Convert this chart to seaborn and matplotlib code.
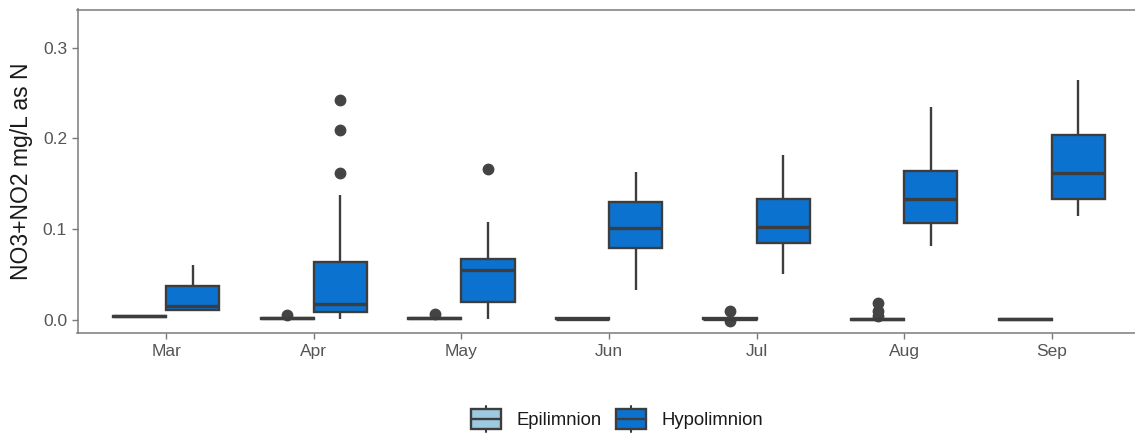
import numpy as np
import pandas as pd
import matplotlib
matplotlib.use("Agg")
import matplotlib.pyplot as plt
from matplotlib.patches import Rectangle
from matplotlib.lines import Line2D
from matplotlib.legend_handler import HandlerBase
import seaborn as sns

# Monthly NO3+NO2 samples (mg/L as N) for each lake layer
months = ["Mar", "Apr", "May", "Jun", "Jul", "Aug", "Sep"]
layers = ["Epilimnion", "Hypolimnion"]

epilimnion = [
    [0.0028, 0.0030, 0.0031, 0.0034, 0.0037, 0.0040, 0.0043, 0.0045, 0.0047],
    [0.0006, 0.0008, 0.0010, 0.0014, 0.0018, 0.0021, 0.0024, 0.0026, 0.0055],
    [0.0004, 0.0006, 0.0008, 0.0011, 0.0015, 0.0018, 0.0022, 0.0024, 0.0066],
    [0.0000, 0.0002, 0.0003, 0.0005, 0.0008, 0.0010, 0.0014, 0.0015, 0.0017],
    [-0.0018, 0.0000, 0.0002, 0.0003, 0.0005, 0.0006, 0.0008, 0.0009, 0.0011,
     0.0014, 0.0015, 0.0016, 0.0100],
    [0.0000, 0.0000, 0.0000, 0.0001, 0.0003, 0.0004, 0.0005, 0.0007, 0.0009,
     0.0012, 0.0040, 0.0100, 0.0180],
    [0.0000, 0.0000, 0.0000, 0.0001, 0.0003, 0.0005, 0.0011, 0.0012, 0.0013],
]

hypolimnion = [
    [0.010, 0.011, 0.011, 0.013, 0.015, 0.022, 0.0375, 0.045, 0.060],
    [0.001, 0.003, 0.005, 0.007, 0.008, 0.010, 0.012, 0.015, 0.0176, 0.024,
     0.035, 0.048, 0.064, 0.137, 0.162, 0.209, 0.242],
    [0.001, 0.008, 0.014, 0.019, 0.030, 0.045, 0.0543, 0.058, 0.062, 0.0669,
     0.085, 0.108, 0.166],
    [0.033, 0.060, 0.0786, 0.090, 0.101, 0.115, 0.130, 0.145, 0.163],
    [0.0507, 0.070, 0.085, 0.095, 0.102, 0.115, 0.133, 0.150, 0.182],
    [0.081, 0.095, 0.107, 0.120, 0.133, 0.150, 0.1645, 0.200, 0.235],
    [0.114, 0.125, 0.133, 0.148, 0.162, 0.185, 0.204, 0.235, 0.264],
]

y_ticks = [0.0, 0.1, 0.2, 0.3]
y_label = "NO3+NO2 mg/L as N"

rows = []
for layer, series in zip(layers, [epilimnion, hypolimnion]):
    for month, values in zip(months, series):
        for v in values:
            rows.append({"month": month, "layer": layer, "value": v})
df = pd.DataFrame(rows)

sns.set_style("white")
plt.rcParams["font.family"] = ["Liberation Sans", "DejaVu Sans"]

edge = "#3d3d3d"
axis_grey = "#7a7a7a"
palette = {"Epilimnion": "#9ecae1", "Hypolimnion": "#0b72d0"}


class BoxGlyphHandler(HandlerBase):
    """Legend key drawn as a small box with median line and whisker stubs."""

    def __init__(self, face):
        super().__init__()
        self.face = face

    def create_artists(self, legend, orig_handle, xdescent, ydescent,
                       width, height, fontsize, trans):
        x0, y0 = -xdescent, -ydescent
        cx = x0 + width / 2
        bh = height * 0.76
        by = y0 + (height - bh) / 2
        box = Rectangle((x0, by), width, bh, facecolor=self.face,
                        edgecolor=edge, linewidth=1.7, transform=trans)
        med = Line2D([x0, x0 + width], [by + bh / 2] * 2, color=edge,
                     linewidth=1.7, transform=trans)
        top = Line2D([cx, cx], [by + bh, y0 + height], color=edge,
                     linewidth=1.5, transform=trans)
        bot = Line2D([cx, cx], [y0, by], color=edge, linewidth=1.5,
                     transform=trans)
        return [box, med, top, bot]


fig = plt.figure(figsize=(11.35, 4.34), dpi=100)
ax = fig.add_axes([77.5 / 1135, 1 - 332.7 / 434, (1140.5 - 77.5) / 1135, (332.7 - 9.5) / 434])

sns.boxplot(
    data=df, x="month", y="value", hue="layer", order=months, hue_order=layers,
    palette=palette, width=0.72, gap=0, linewidth=1.7, linecolor=edge,
    fliersize=7.5, saturation=1, showcaps=False,
    medianprops=dict(linewidth=2.4),
    flierprops=dict(marker="o", markerfacecolor="#444444", markeredgecolor="#444444"),
    ax=ax,
)

ax.set_xlim(-0.6, 6.6)
ax.set_ylim(-0.0143, 0.342)
ax.set_yticks(y_ticks)
ax.set_yticklabels([f"{t:.1f}" for t in y_ticks])
ax.set_xlabel("")
ax.set_ylabel(y_label, fontsize=16.5, color="#1a1a1a", labelpad=7)

for side in ["left", "bottom", "top"]:
    ax.spines[side].set_visible(True)
    ax.spines[side].set_color(axis_grey)
    ax.spines[side].set_linewidth(1.1)
ax.spines["right"].set_visible(False)
ax.tick_params(axis="both", which="both", length=4, width=1.0, color=axis_grey,
               labelcolor="#555555", labelsize=12.5, left=True, bottom=True)
ax.tick_params(axis="x", pad=4)

ax.get_legend().remove()
keys = [Rectangle((0, 0), 1, 1) for _ in layers]
fig.legend(keys, layers, loc="center", bbox_to_anchor=(617 / 1135, 1 - 419 / 434),
           ncol=2, frameon=False, fontsize=13.3, handlelength=1.62, handleheight=1.75,
           columnspacing=0.8, handletextpad=0.85, labelcolor="#1a1a1a",
           borderpad=0.2,
           handler_map={keys[i]: BoxGlyphHandler(palette[layers[i]]) for i in range(2)})

fig.savefig("out.png", dpi=100, facecolor="white")
